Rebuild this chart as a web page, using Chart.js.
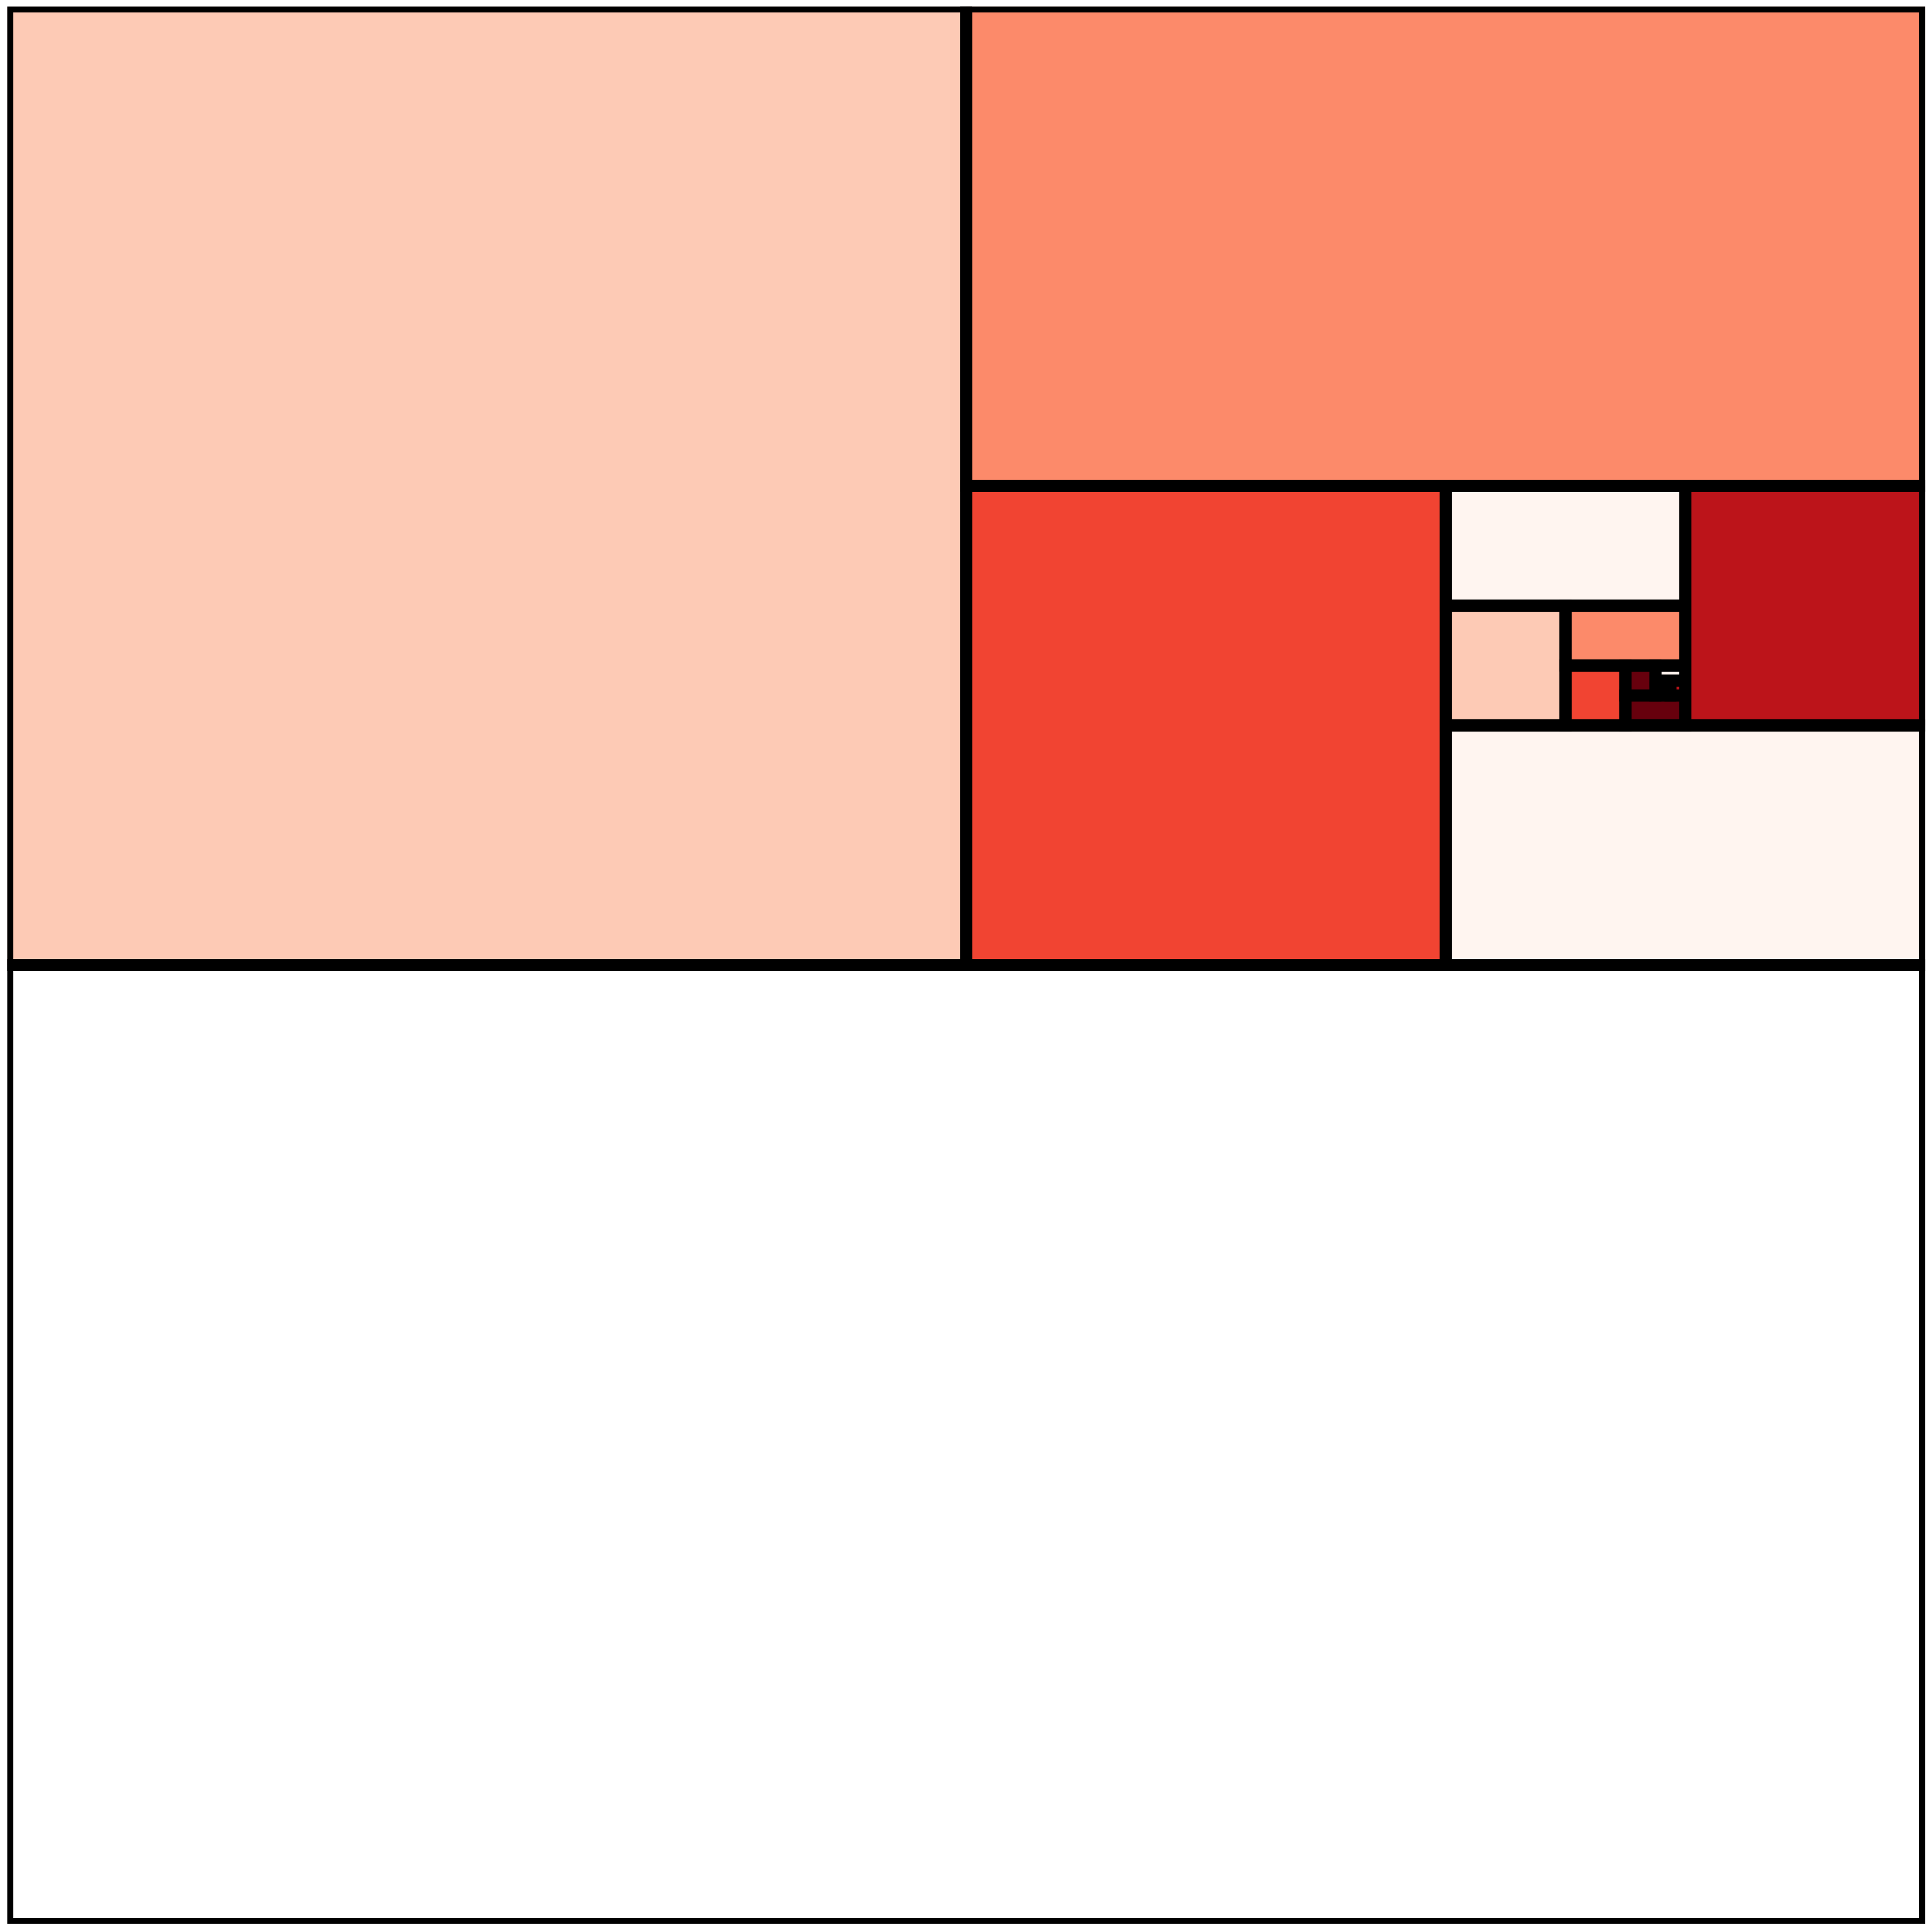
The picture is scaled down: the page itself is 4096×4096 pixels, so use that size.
<!DOCTYPE html>
<html>
<head>
<meta charset="utf-8">
<script src="https://cdn.jsdelivr.net/npm/chart.js@4/dist/chart.umd.min.js"></script>
<style>
  html, body { margin: 0; padding: 0; background: #ffffff; }
  #wrap { width: 4096px; height: 4096px; }
  canvas { display: block; }
</style>
</head>
<body>
<div id="wrap"><canvas id="c" width="4096" height="4096" style="width:4096px;height:4096px"></canvas></div>
<script>
// ---- data (order of items drives the binary treemap layout) ----
const categories = ['B', 'C', 'D', 'G', 'H', 'I', 'J', 'L', 'M', 'O', 'P', 'N', 'K', 'F', 'E', 'A'];
const values = [1/4, 1/8, 1/16, 1/128, 1/256, 1/512, 1/1024, 1/4096, 1/8192,
                1/32768, 1/32768, 1/16384, 1/2048, 1/64, 1/32, 1/2];
const colors = ['#fdcab5', '#fc8a6a', '#f14432', '#fff5f0', '#fdcab5', '#fc8a6a', '#f14432', '#67000d', '#fff5f0',
                '#fc8a6a', '#f14432', '#bc141a', '#67000d', '#bc141a', '#fff5f0', '#ffffff'];

const S = 0.91;                 // drawing scale relative to the reference
const EDGE_WIDTH = 28 * S;      // rectangle edge width
const EDGE_COLOR = '#000000';

// binary treemap layout (balanced partition, like d3.treemapBinary)
function treemapBinary(vals, X0, Y0, X1, Y1) {
  const n = vals.length;
  const sums = [0];
  for (let i = 0; i < n; i++) sums.push(sums[i] + vals[i]);
  const out = new Array(n);
  function partition(i, j, value, x0, y0, x1, y1) {
    if (i >= j - 1) { out[i] = { x0, y0, x1, y1 }; return; }
    const valueOffset = sums[i];
    const valueTarget = value / 2 + valueOffset;
    let k = i + 1, hi = j - 1;
    while (k < hi) {
      const mid = (k + hi) >>> 1;
      if (sums[mid] < valueTarget) k = mid + 1; else hi = mid;
    }
    if ((valueTarget - sums[k - 1]) < (sums[k] - valueTarget) && i + 1 < k) --k;
    const valueLeft = sums[k] - valueOffset;
    const valueRight = value - valueLeft;
    if ((x1 - x0) > (y1 - y0)) {
      const xk = value ? (x0 * valueRight + x1 * valueLeft) / value : x1;
      partition(i, k, valueLeft, x0, y0, xk, y1);
      partition(k, j, valueRight, xk, y0, x1, y1);
    } else {
      const yk = value ? (y0 * valueRight + y1 * valueLeft) / value : y1;
      partition(i, k, valueLeft, x0, y0, x1, yk);
      partition(k, j, valueRight, x0, yk, x1, y1);
    }
  }
  partition(0, n, sums[n], X0, Y0, X1, Y1);
  return out;
}

const treemapPlugin = {
  id: 'treemapCells',
  afterDatasetsDraw(chart) {
    const { ctx, chartArea, scales } = chart;
    const xs = scales.x, ys = scales.y;
    const total = values.reduce((a, b) => a + b, 0);
    const cells = treemapBinary(values, 0, 0, 1, 1);
    const px = cells.map(c => {
      const l = xs.getPixelForValue(c.x0), r = xs.getPixelForValue(c.x1);
      const t = ys.getPixelForValue(c.y0), b = ys.getPixelForValue(c.y1);
      return { l: Math.min(l, r), t: Math.min(t, b), w: Math.abs(r - l), h: Math.abs(b - t) };
    });
    ctx.save();
    ctx.beginPath();
    ctx.rect(chartArea.left, chartArea.top, chartArea.right - chartArea.left, chartArea.bottom - chartArea.top);
    ctx.clip();
    px.forEach((p, i) => {
      ctx.fillStyle = colors[i];
      ctx.fillRect(p.l, p.t, p.w, p.h);
    });
    ctx.lineWidth = EDGE_WIDTH;
    ctx.strokeStyle = EDGE_COLOR;
    ctx.lineJoin = 'miter';
    px.forEach(p => {
      ctx.strokeRect(p.l, p.t, p.w, p.h);
    });
    ctx.restore();
  }
};

new Chart(document.getElementById('c'), {
  type: 'scatter',
  data: {
    datasets: [{
      label: 'treemap',
      data: categories.map(() => null),
      pointRadius: 0
    }]
  },
  options: {
    responsive: false,
    animation: false,
    devicePixelRatio: 1,
    layout: { padding: { left: 17 * S, top: 15 * S, right: 4500 * S - 4484 * S, bottom: 4500 * S - 4481 * S } },
    plugins: { legend: { display: false }, tooltip: { enabled: false }, title: { display: false } },
    scales: {
      x: { type: 'linear', min: 0, max: 1, display: false, grid: { display: false } },
      y: { type: 'linear', min: 0, max: 1, reverse: true, display: false, grid: { display: false } }
    }
  },
  plugins: [treemapPlugin]
});
</script>
</body>
</html>
